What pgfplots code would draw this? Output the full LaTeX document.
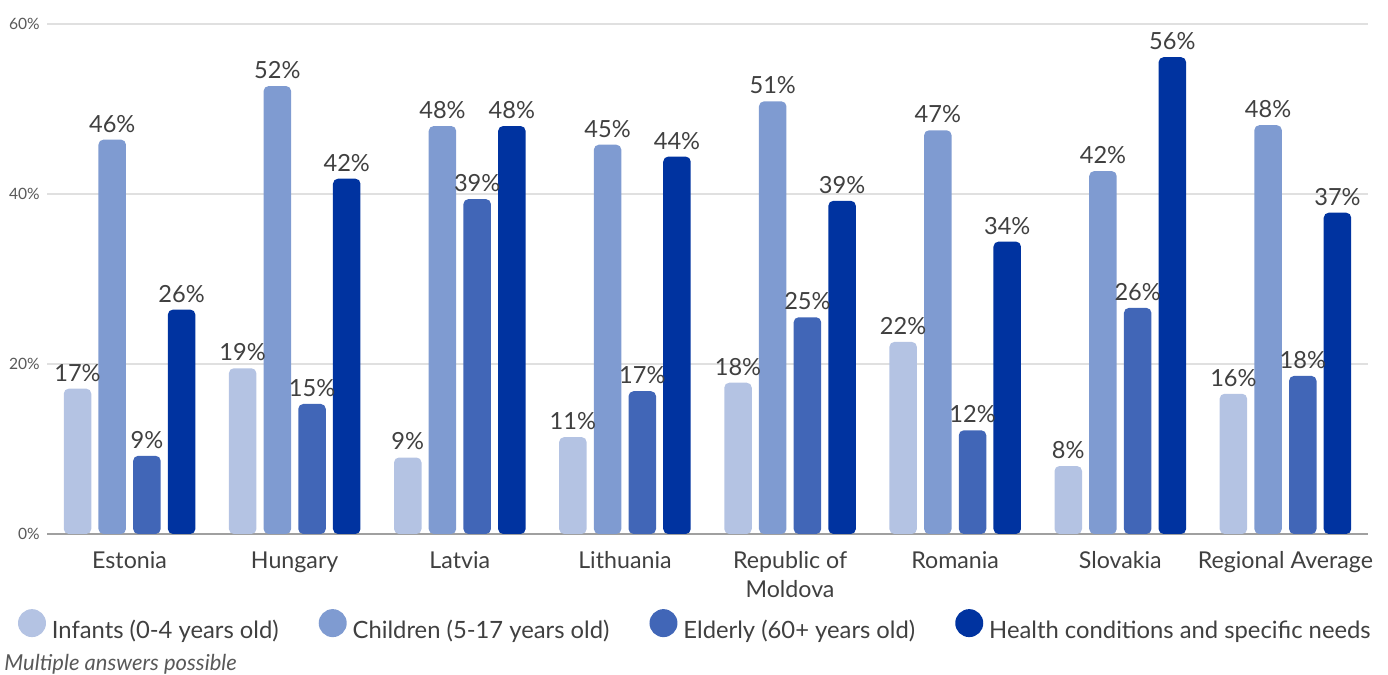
\documentclass[border=0pt]{standalone}
\usepackage{fontspec}
\setmainfont{Lato}
\usepackage{pgfplots}
\usepackage{pgfplotstable}
\pgfplotsset{compat=1.18}
\definecolor{cInf}{HTML}{B4C3E3}
\definecolor{cChi}{HTML}{7F9BD1}
\definecolor{cEld}{HTML}{4166B7}
\definecolor{cHea}{HTML}{0033A0}
\definecolor{cText}{HTML}{404040}
\definecolor{cTick}{HTML}{595959}
\definecolor{cGrid}{HTML}{E0E0E0}
\definecolor{cAxis}{HTML}{A0A0A0}

\pgfplotstableread{
x inf infL chi chiL eld eldL hea heaL
0 17.1 17 46.4 46 9.2 9 26.4 26
1 19.5 19 52.7 52 15.3 15 41.8 42
2 9.0 9 48.0 48 39.4 39 48.0 48
3 11.4 11 45.8 45 16.8 17 44.4 44
4 17.8 18 50.9 51 25.5 25 39.2 39
5 22.6 22 47.5 47 12.2 12 34.4 34
6 8.0 8 42.7 42 26.6 26 56.1 56
7 16.5 16 48.1 48 18.6 18 37.8 37
}\datatable

\begin{document}
\begin{tikzpicture}
\path[use as bounding box] (0,0) rectangle (694pt,337.5pt);
\begin{axis}[
  at={(23.5pt,70.5pt)}, anchor=south west,
  scale only axis, width=660.5pt, height=255pt,
  xmin=-0.5, xmax=7.5, ymin=0, ymax=60,
  ybar=3.6pt, bar width=13.75pt,
  axis x line=bottom, axis y line=left,
  x axis line style={-, draw=cAxis, line width=1pt},
  y axis line style={draw=none},
  major tick length=0pt,
  xtick={0,...,7},
  xticklabels={Estonia, Hungary, Latvia, Lithuania, {Republic of\\Moldova}, Romania, Slovakia, Regional Average},
  xticklabel style={font=\fontsize{11.6}{14.5}\selectfont, text=cText, align=center, inner sep=0pt, yshift=-8.5pt},
  ytick={0,20,40,60},
  yticklabels={0\%,20\%,40\%,60\%},
  yticklabel style={font=\fontsize{7.8}{9}\selectfont, text=cTick, inner sep=0pt, xshift=-3.5pt},
  ymajorgrids, grid style={draw=cGrid, line width=0.6pt},
  point meta=explicit symbolic,
  nodes near coords={\pgfplotspointmeta\%},
  every node near coord/.append style={font=\fontsize{11.8}{14}\selectfont, text=cText, inner sep=0pt, yshift=3.5pt},
  every axis plot/.append style={draw=none, rounded corners=2.5pt},
  legend columns=4,
  legend image code/.code={\fill (7pt,4pt) circle (7pt);},
  legend style={draw=none, fill=none, inner sep=0pt, outer sep=0pt,
    at={(axis description cs:-0.02195,-0.1794)}, anchor=west,
    font=\fontsize{11.9}{13}\selectfont, text=cText,
    nodes={inner sep=0pt},
    /tikz/every even column/.append style={column sep=20pt},
    /tikz/every odd column/.append style={column sep=3pt}},
]
\addplot[fill=cInf] table[x=x, y=inf, meta=infL] {\datatable};
\addplot[fill=cChi] table[x=x, y=chi, meta=chiL] {\datatable};
\addplot[fill=cEld] table[x=x, y=eld, meta=eldL] {\datatable};
\addplot[fill=cHea] table[x=x, y=hea, meta=heaL] {\datatable};
\legend{Infants (0-4 years old), Children (5-17 years old), Elderly (60+ years old), Health conditions and specific needs}
\end{axis}
\node[anchor=base west, font=\itshape\fontsize{11}{13}\selectfont, text=cTick, inner sep=0pt] at (2pt,2.25pt) {Multiple answers possible};
\end{tikzpicture}
\end{document}
